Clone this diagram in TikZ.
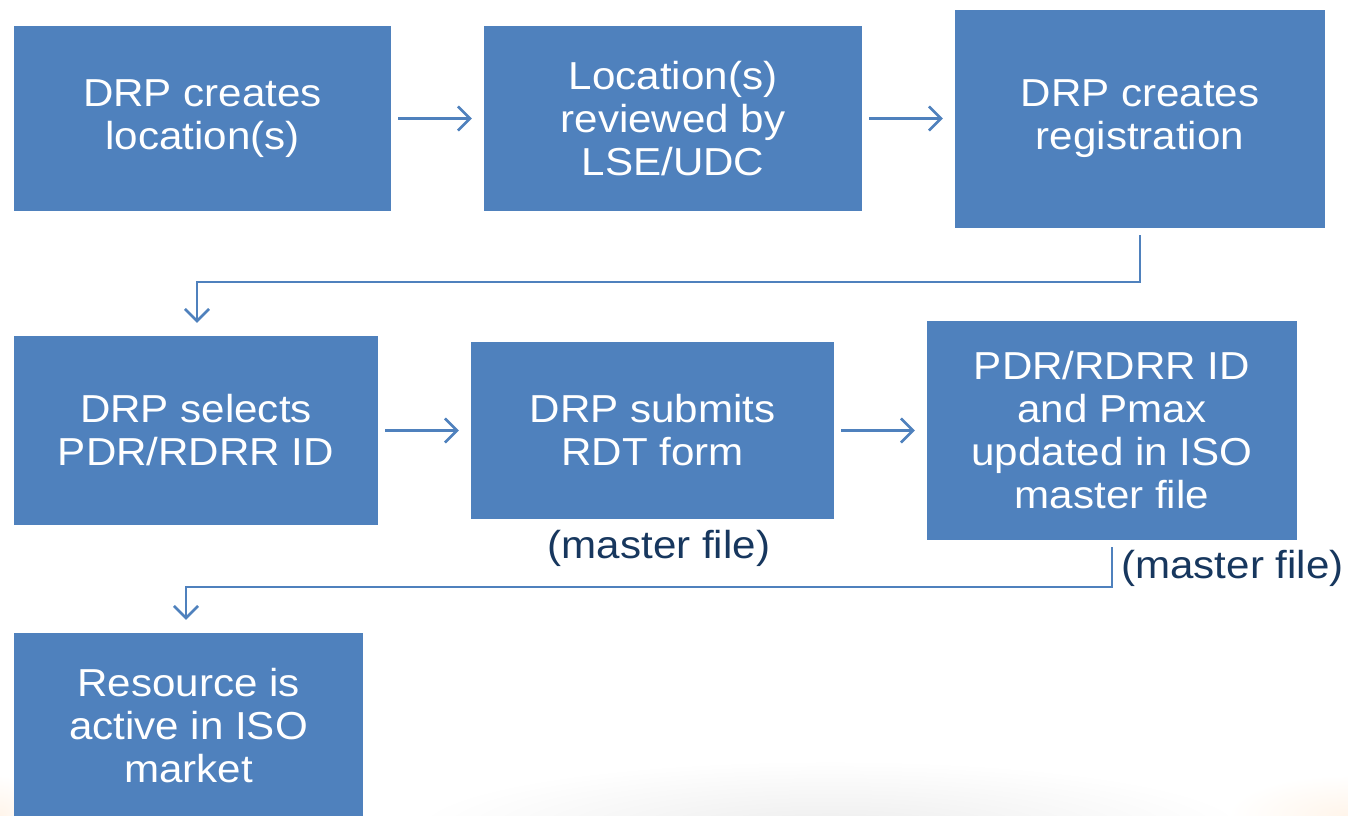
\documentclass[tikz,border=0pt]{standalone}
\usepackage{fontspec}
\setmainfont[FakeStretch=1.08]{Liberation Sans}
\usetikzlibrary{arrows.meta}
\definecolor{boxblue}{RGB}{79,129,189}
\definecolor{navy}{RGB}{23,55,94}
\tikzset{
  stepbox/.style={fill=boxblue, draw=none, text=white, align=center,
    inner sep=0pt, font=\fontsize{39}{43}\selectfont},
  flow/.style={draw=boxblue, line width=2.6pt,
    -{Straight Barb[length=12pt, width=24pt, line width=2.6pt]}},
  note/.style={text=navy, inner sep=0pt, font=\fontsize{39}{43}\selectfont}
}
\begin{document}
\begin{tikzpicture}[x=1pt, y=-1pt]
  \useasboundingbox (0,0) rectangle (1348,815);
  % soft swoosh along the lower edge
  \shade[inner color=gray!14, outer color=white] (830,830) ellipse (420 and 70);
  \shade[inner color=orange!8, outer color=white] (1348,815) ellipse (120 and 40);
  \shade[inner color=orange!8, outer color=white] (0,815) ellipse (40 and 40);

  % first row
  \node[stepbox, minimum width=377pt, minimum height=185pt] (b1) at (202.5,118.5)
    {DRP creates\\location(s)};
  \node[stepbox, minimum width=378pt, minimum height=185pt] (b2) at (673,118.5)
    {Location(s)\\reviewed by\\LSE/UDC};
  \node[stepbox, minimum width=370pt, minimum height=218pt] (b3) at (1140,119)
    {DRP creates\\registration};

  % second row
  \node[stepbox, minimum width=364pt, minimum height=189pt] (b4) at (196,430.5)
    {DRP selects\\PDR/RDRR ID};
  \node[stepbox, minimum width=363pt, minimum height=177pt] (b5) at (652.5,430.5)
    {DRP submits\\RDT form};
  \node[stepbox, minimum width=370pt, minimum height=219pt] (b6) at (1112,430.5)
    {PDR/RDRR ID\\and Pmax\\updated in ISO\\master file};

  % third row
  \node[stepbox, minimum width=349pt, minimum height=186pt] (b7) at (188.5,726)
    {Resource is\\active in ISO\\market};

  % notes
  \node[note] (n1) at (659,548) {(master file)};
  \node[note] (n2) at (1232.5,568) {(master file)};

  % connectors
  \draw[flow, shorten <=7pt, shorten >=12pt] (b1.east) -- (b2.west);
  \draw[flow, shorten <=7pt, shorten >=12pt] (b2.east) -- (b3.west |- b2.east);
  \draw[flow, shorten <=7pt, shorten >=12pt] (b4.east) -- (b5.west);
  \draw[flow, shorten <=7pt, shorten >=12pt] (b5.east) -- (b6.west);
  \coordinate (e1) at (197,282);
  \draw[flow, shorten <=7pt, shorten >=13pt]
    (b3.south) -- (b3.south |- e1) -- (e1) -- (e1 |- b4.north);
  \coordinate (e2) at (186,587);
  \draw[flow, shorten <=7pt, shorten >=13pt]
    (b6.south) -- (b6.south |- e2) -- (e2) -- (e2 |- b7.north);
\end{tikzpicture}
\end{document}
